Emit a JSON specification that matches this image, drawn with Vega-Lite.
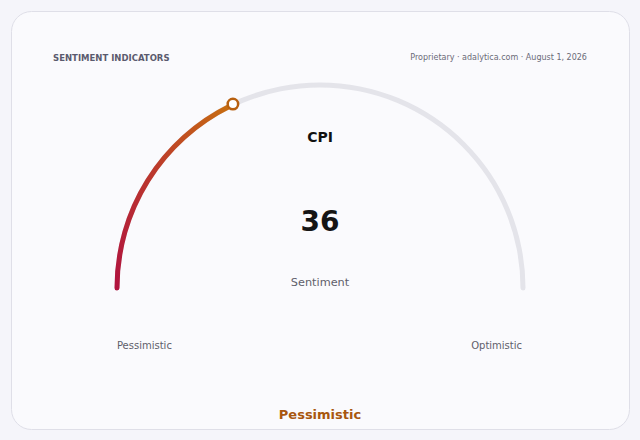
{
  "$schema": "https://vega.github.io/schema/vega-lite/v6.json",
  "width": 618,
  "height": 418,
  "padding": 11,
  "autosize": "none",
  "background": "#f5f5fa",
  "datasets": {
    "gauge": [
      {"part": "track", "start": 0, "end": 100},
      {"part": "value", "start": 0, "end": 36}
    ],
    "marker": [{"value": 36, "x": -0.429, "y": 0.906}],
    "labels": [
      {"kind": "header", "text": "SENTIMENT INDICATORS", "x": -1.315, "y": 1.135},
      {"kind": "source", "text": "Proprietary · adalytica.com · August 1, 2026", "x": 1.315, "y": 1.135},
      {"kind": "name", "text": "CPI", "x": 0, "y": 0.739},
      {"kind": "number", "text": "36", "x": 0, "y": 0.322},
      {"kind": "caption", "text": "Sentiment", "x": 0, "y": 0.027},
      {"kind": "end", "text": "Pessimistic", "x": -0.865, "y": -0.285},
      {"kind": "end", "text": "Optimistic", "x": 0.87, "y": -0.285},
      {"kind": "status", "text": "Pessimistic", "x": 0, "y": -0.626}
    ]
  },
  "layer": [
    {
      "data": {"name": "gauge"},
      "transform": [{"filter": "datum.part === 'track'"}],
      "mark": {"type": "arc", "radius": 205.5, "radius2": 200.5, "cornerRadius": 2.5, "fill": "#e4e4ea"},
      "encoding": {
        "x": {"datum": 0, "type": "quantitative", "scale": {"domain": [-1.5222, 1.5222], "nice": false, "zero": false}},
        "y": {"datum": 0, "type": "quantitative", "scale": {"domain": [-0.6946, 1.3645], "nice": false, "zero": false}},
        "theta": {"field": "start", "type": "quantitative", "stack": null, "scale": {"domain": [0, 100], "range": [-1.583, 1.583]}},
        "theta2": {"field": "end"}
      }
    },
    {
      "data": {"name": "gauge"},
      "transform": [{"filter": "datum.part === 'value'"}],
      "mark": {
        "type": "arc", "radius": 205.5, "radius2": 200.5, "cornerRadius": 2.5,
        "fill": {
          "gradient": "linear", "x1": 0, "y1": 1, "x2": 1, "y2": 0,
          "stops": [
            {"offset": 0, "color": "#b0123f"},
            {"offset": 0.5, "color": "#bc3a2c"},
            {"offset": 1, "color": "#c8700f"}
          ]
        }
      },
      "encoding": {
        "x": {"datum": 0, "type": "quantitative"},
        "y": {"datum": 0, "type": "quantitative"},
        "theta": {"field": "start", "type": "quantitative", "stack": null},
        "theta2": {"field": "end"}
      }
    },
    {
      "data": {"name": "marker"},
      "mark": {"type": "point", "shape": "circle", "size": 110, "filled": true, "fill": "#ffffff", "stroke": "#b8600f", "strokeWidth": 2.5, "opacity": 1},
      "encoding": {
        "x": {"field": "x", "type": "quantitative"},
        "y": {"field": "y", "type": "quantitative"}
      }
    },
    {
      "data": {"name": "labels"},
      "transform": [{"filter": "datum.kind === 'header'"}],
      "mark": {"type": "text", "align": "left", "baseline": "middle", "font": "DejaVu Sans", "fontSize": 8.5, "fontWeight": "bold", "fill": "#5a5a6e"},
      "encoding": {
        "x": {"field": "x", "type": "quantitative"},
        "y": {"field": "y", "type": "quantitative"},
        "text": {"field": "text"}
      }
    },
    {
      "data": {"name": "labels"},
      "transform": [{"filter": "datum.kind === 'source'"}],
      "mark": {"type": "text", "align": "right", "baseline": "middle", "font": "DejaVu Sans", "fontSize": 8, "fill": "#6a6a78"},
      "encoding": {
        "x": {"field": "x", "type": "quantitative"},
        "y": {"field": "y", "type": "quantitative"},
        "text": {"field": "text"}
      }
    },
    {
      "data": {"name": "labels"},
      "transform": [{"filter": "datum.kind === 'name'"}],
      "mark": {"type": "text", "align": "center", "baseline": "middle", "font": "DejaVu Sans", "fontSize": 14, "fontWeight": "bold", "fill": "#111111"},
      "encoding": {
        "x": {"field": "x", "type": "quantitative"},
        "y": {"field": "y", "type": "quantitative"},
        "text": {"field": "text"}
      }
    },
    {
      "data": {"name": "labels"},
      "transform": [{"filter": "datum.kind === 'number'"}],
      "mark": {"type": "text", "align": "center", "baseline": "middle", "font": "DejaVu Sans", "fontSize": 28, "fontWeight": "bold", "fill": "#151515"},
      "encoding": {
        "x": {"field": "x", "type": "quantitative"},
        "y": {"field": "y", "type": "quantitative"},
        "text": {"field": "text"}
      }
    },
    {
      "data": {"name": "labels"},
      "transform": [{"filter": "datum.kind === 'caption'"}],
      "mark": {"type": "text", "align": "center", "baseline": "middle", "font": "DejaVu Sans", "fontSize": 11.3, "fill": "#5f5f6b"},
      "encoding": {
        "x": {"field": "x", "type": "quantitative"},
        "y": {"field": "y", "type": "quantitative"},
        "text": {"field": "text"}
      }
    },
    {
      "data": {"name": "labels"},
      "transform": [{"filter": "datum.kind === 'end'"}],
      "mark": {"type": "text", "align": "center", "baseline": "middle", "font": "DejaVu Sans", "fontSize": 10, "fill": "#5f5f6b"},
      "encoding": {
        "x": {"field": "x", "type": "quantitative"},
        "y": {"field": "y", "type": "quantitative"},
        "text": {"field": "text"}
      }
    },
    {
      "data": {"name": "labels"},
      "transform": [{"filter": "datum.kind === 'status'"}],
      "mark": {"type": "text", "align": "center", "baseline": "middle", "font": "DejaVu Sans", "fontSize": 13, "fontWeight": "bold", "fill": "#a8570f"},
      "encoding": {
        "x": {"field": "x", "type": "quantitative"},
        "y": {"field": "y", "type": "quantitative"},
        "text": {"field": "text"}
      }
    }
  ],
  "config": {
    "axis": {"disable": true},
    "view": {"fill": "#fafafd", "stroke": "#dfdfe8", "strokeWidth": 1, "cornerRadius": 20}
  }
}
